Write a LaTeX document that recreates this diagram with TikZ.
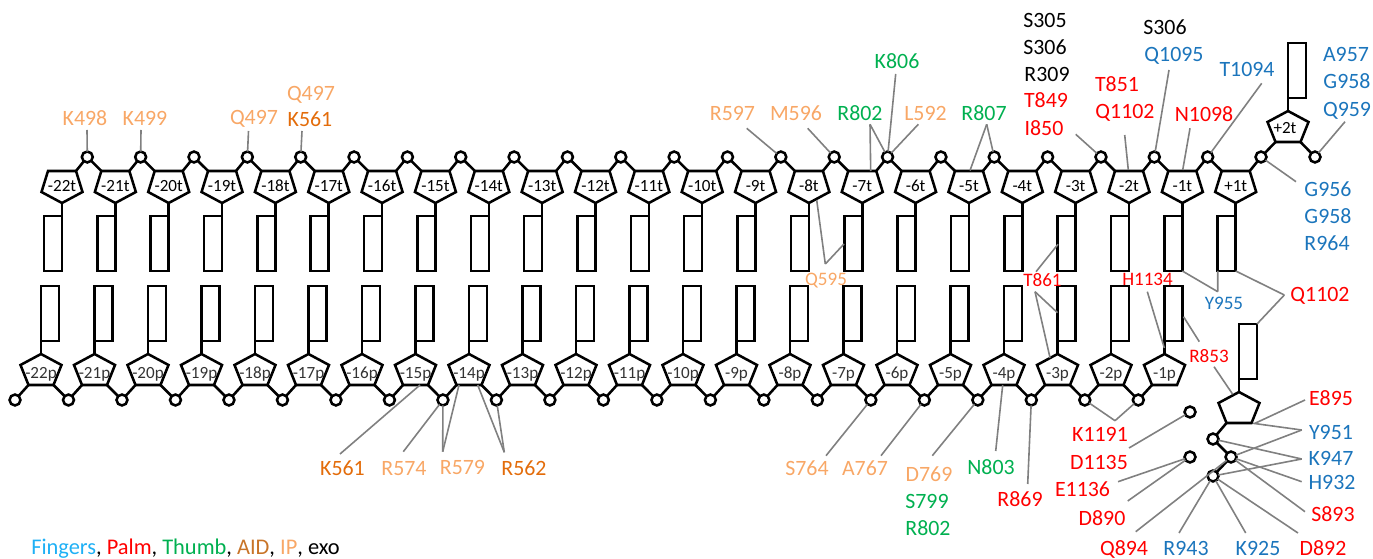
\documentclass[tikz,border=0pt]{standalone}
\usepackage{fontspec}
\setmainfont{Carlito}
\usetikzlibrary{positioning}
\definecolor{ipc}{HTML}{F8A766}
\definecolor{aidc}{HTML}{E36C0A}
\definecolor{palmc}{HTML}{FF0000}
\definecolor{thumbc}{HTML}{00B050}
\definecolor{fingc}{HTML}{1B75BC}
\tikzset{
  strand/.style={draw, line width=1.9pt, line join=miter},
  linker/.style={line width=1.2pt, color=black!50},
  base/.style={strand, fill=white, inner sep=0pt, outer sep=0pt, minimum width=13.5pt, minimum height=41.25pt},
  phos/.style={strand, fill=white, circle, inner sep=0pt, outer sep=0pt, minimum size=8.2pt},
  sugartext/.style={font=\fontsize{12.8}{14}\selectfont, inner sep=0pt, text height=8.1pt, text depth=0pt},
  res/.style={font=\fontsize{16.4}{18}\selectfont, inner sep=0pt, text height=10.4pt, text depth=0pt, yshift=-0.7pt},
  ressmall/.style={font=\fontsize{14.3}{16}\selectfont, inner sep=0pt, text height=9.1pt, text depth=0pt, yshift=-0.7pt},
  pics/sugardown/.style={code={
    \draw[strand] (0,0) coordinate (-tip) -- (-20.5,-11) -- (-14,-32) coordinate (-tl) -- (14,-32) coordinate (-tr) -- (20.5,-11) -- cycle;
  }},
  pics/sugarup/.style={code={
    \draw[strand] (0,0) coordinate (-tip) -- (-20.5,11) -- (-12.5,31) coordinate (-bl) -- (12.5,31) coordinate (-br) -- (20.5,11) -- cycle;
  }}
}
\begin{document}
\begin{tikzpicture}[x=0.75pt, y=-0.75pt]
\useasboundingbox (0,0) rectangle (1373,559);
% template strand
\foreach \lab [count=\i from 0] in {-22t,-21t,-20t,-19t,-18t,-17t,-16t,-15t,-14t,-13t,-12t,-11t,-10t,-9t,-8t,-7t,-6t,-5t,-4t,-3t,-2t,-1t,+1t} {
  \pgfmathsetmacro\tipx{62+53.35*\i}
  \pgfmathsetmacro\cx{87.3+53.35*\i}
  \pic (t\i) at (\tipx,203) {sugardown};
  \node[sugartext] (tl\i) at (\tipx,186) {\lab};
  \node[base, anchor=north east] (tb\i) at (\tipx,216) {};
  \node[phos] (tc\i) at (\cx,157) {};
  \draw[strand] (t\i-tip) -- (tb\i.north east);
  \draw[strand] (t\i-tr) -- (tc\i);
}
\foreach \i [remember=\i as \j (initially 0)] in {1,...,22}
  \draw[strand] (tc\j) -- (t\i-tl);
% primer strand
\foreach \lab [count=\i from 0] in {-22p,-21p,-20p,-19p,-18p,-17p,-16p,-15p,-14p,-13p,-12p,-11p,-10p,-9p,-8p,-7p,-6p,-5p,-4p,-3p,-2p,-1p} {
  \pgfmathsetmacro\tipx{41+53.5*\i}
  \pgfmathsetmacro\cx{15+53.49*\i}
  \pic (p\i) at (\tipx,354) {sugarup};
  \node[sugartext, black!80] (pl\i) at (\tipx,373) {\lab};
  \node[base, anchor=south west] (pb\i) at (\tipx,341) {};
  \node[phos] (pc\i) at (\cx,400) {};
  \draw[strand] (p\i-tip) -- (pb\i.south west);
  \draw[strand] (p\i-bl) -- (pc\i);
}
\foreach \i [remember=\i as \j (initially 0)] in {1,...,21}
  \draw[strand] (p\j-br) -- (pc\i);
% +2t at the end of the template
\pic (tn) at (1288,111) {sugarup};
\node[sugartext] (tnl) at (1285,128) {+2t};
\node[base, anchor=south west] (tnb) at (1288,98) {};
\node[phos] (tnc) at (1315,157) {};
\draw[strand] (tn-tip) -- (tnb.south west);
\draw[strand] (tn-bl) -- (tc22);
\draw[strand] (tn-br) -- (tnc);
% incoming nucleotide and metal ions
\pic (nt) at (1239,392) {sugarup};
\node[base, anchor=south west] (ntb) at (1239,379) {};
\node[phos] (ntc1) at (1213,439) {};
\node[phos] (ntc2) at (1231,457) {};
\node[phos] (ntc3) at (1213,476) {};
\node[phos] (mg1) at (1190,412) {};
\node[phos] (mg2) at (1190,457) {};
\draw[strand] (nt-tip) -- (ntb.south west);
\draw[strand] (nt-bl) -- (ntc1);
\draw[strand] (ntc1) -- (ntc2);
\draw[strand] (ntc2) -- (ntc3);
% labels
\foreach \t/\px/\py [count=\i] in {K498/85/118,K499/145/118,Q497/254/117,Q497/311/93,R597/732.5/113,M596/796/113,L592/925.5/113,R574/404/468,R579/462.5/467,S764/807/468,A767/865/468,D769/929/474}
  \node[res, ipc] (ip\i) at (\px,\py) {\t};
\foreach \t/\px/\py [count=\i] in {K561/310/119,K561/342.5/468,R562/524/468}
  \node[res, aidc] (aid\i) at (\px,\py) {\t};
\foreach \t/\px/\py [count=\i] in {K806/897/61,R802/860/113,R807/984/113,S799/927/501,R802/928/528,N803/991/467}
  \node[res, thumbc] (th\i) at (\px,\py) {\t};
\foreach \t/\px/\py [count=\i] in {T849/1046/100,I850/1044/128,T851/1117/84,Q1102/1125/111,N1098/1204/114,Q1102/1320/294,E895/1331/398,S893/1333/514,D892/1323/548,Q894/1124/548,D890/1102/518,E1136/1082.5/489,D1135/1099/462,K1191/1100/434,R869/1020/499}
  \node[res, palmc] (palm\i) at (\px,\py) {\t};
\foreach \t/\px/\py [count=\i] in {Q1095/1174/54,T1094/1247/69,A957/1346/54,G958/1347/81,Q959/1347/109,G956/1328/189,G958/1328/216,R964/1327/243,Y951/1331/432,K947/1331/458,H932/1332/482,K925/1258/548,R943/1186/548}
  \node[res, fingc] (fing\i) at (\px,\py) {\t};
\foreach \t/\px/\py [count=\i] in {S305/1045/20,S306/1045/47,R309/1047/74,S306/1165/27}
  \node[res] (exo\i) at (\px,\py) {\t};
\node[ressmall, palmc] (small1) at (1042.5,280) {T861};
\node[ressmall, palmc] (small2) at (1147.5,279) {H1134};
\node[ressmall, palmc] (small3) at (1209,355) {R853};
\node[ressmall, ipc] (small4) at (826,279) {Q595};
\node[ressmall, fingc] (small5) at (1224,303) {Y955};
\node[res, font=\fontsize{16.8}{18}\selectfont, anchor=west] (legend) at (31,547) {\textcolor[HTML]{1FB0F5}{Fingers}, \textcolor{palmc}{Palm}, \textcolor{thumbc}{Thumb}, \textcolor[HTML]{C87428}{AID}, \textcolor{ipc}{IP}, exo};
% free ends of the contact lines
\foreach \n/\px/\py in {K498/87/130,K499/141/130,QA/248.5/131,KA/302/131,R597/746.7/128.3,M596/807.7/128.3,R802/870/124.3,K806/895.7/74,L592/918.3/124.3,R807/986.7/124.3,Q595/825.3/264,I850/1075.7/134.3,Q1102/1124.7/135,Q1095/1169/70,N1098/1190/128.3,T1094/1261.7/83.3,Q959/1345/121.7,G956/1296/181.7,TA/1036/271.7,TB/1035/291.7,Y955/1217.7/291.7,QB/1284.3/295,H1134/1147.3/291.7,RA/1199.3/341.7,RB/1214/366.7,E895/1305/400,Y951/1301.7/430,K947/1301.7/459,H932/1301.7/481.7,S893/1305/511.7,D892/1298/533,K925/1245.7/533,R943/1179/533,Q894/1135.7/531.7,K1191/1129/448,E1136/1118/481.7,D890/1127.7/501,KB/1115/420.7,N803/995.7/451,R869/1027.7/484,D769/932.3/455.7,A767/881/455.7,S764/826/455.7,KC/340/454,R574/403.3/451.7,R579/442.7/451.7,R562/504.3/452.3}
  \coordinate (e\n) at (\px,\py);
% contact points on sugars and bases
\foreach \n/\px/\py in {a/870.7/171,b/970/170.5,c/816.7/200,d/844/244,e/1128.3/170,f/1182.7/170,g/1058/244.3,h/1057.5/312.7,i/1050/357.7,j/1164.3/348,k/1183.5/316.7,l/1232.7/394.3,m/1255/423.3,n/1253/423.3,o/1002.7/385,p/420/385,q/459/385,r/477.7/385}
  \coordinate (on\n) at (\px,\py);
% contact lines
\foreach \a/\b in {eK498/tc0,eK499/tc1,eQA/tc3,eKA/tc4,eR597/tc13,eM596/tc14,eR802/ona,eR802/tc15,eK806/tc15,eL592/tc15,eR807/tc17,eR807/onb,eQ595/onc,eQ595/ond,eI850/tc19,eQ1102/one,eQ1095/tc20,eN1098/onf,eT1094/tc21,eQ959/tnc,eG956/tc22,eTA/ong,eTB/onh,eTB/oni,eY955/tb22.south west,eY955/tb21.south east,eQB/tb22.south east,eQB/ntb.north east,eH1134/onj,eRA/onk,eRB/onl,eE895/onm,eY951/onn,eY951/ntc2,eK947/ntc1,eK947/ntc3,eH932/ntc2,eS893/ntc2,eD892/ntc3,eK925/ntc3,eR943/ntc3,eQ894/ntc2,eK1191/mg1,eE1136/mg2,eD890/mg2,eKB/pc20,eKB/pc21,eN803/ono,eR869/pc19,eD769/pc18,eA767/pc17,eS764/pc16,eKC/onp,eR574/pc8,eR579/pc8,eR579/onq,eR562/onr,eR562/pc9}
  \draw[linker] (\a) -- (\b);
\end{tikzpicture}
\end{document}
